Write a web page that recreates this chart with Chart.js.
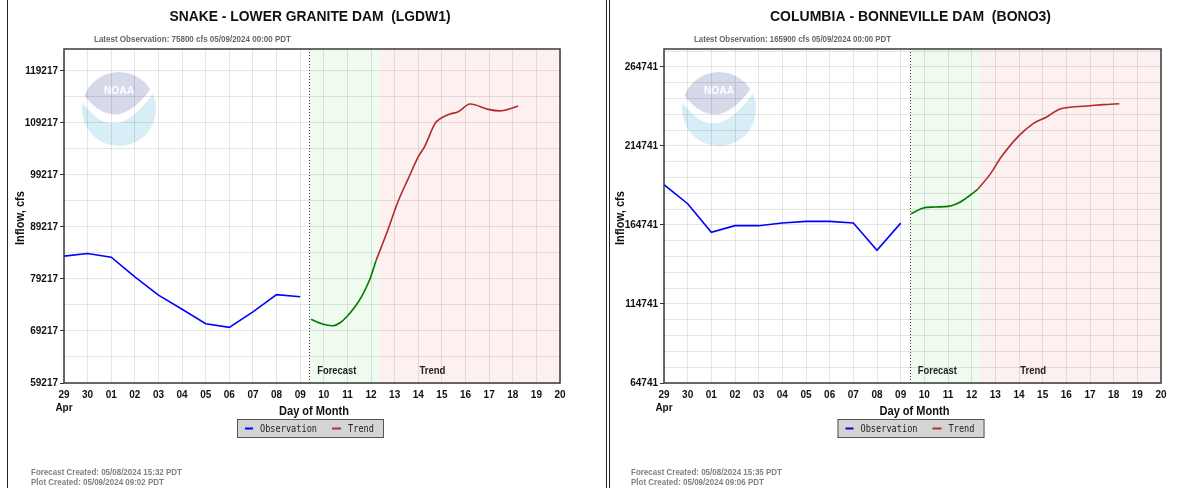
<!DOCTYPE html>
<html>
<head>
<meta charset="utf-8">
<script src="https://cdn.jsdelivr.net/npm/chart.js@4.4.1/dist/chart.umd.min.js"></script>
<style>
  body { margin: 0; background: #fff; }
  #wrap { position: relative; width: 1196px; height: 488px; }
  canvas { position: absolute; top: 0; }
</style>
</head>
<body>
<div id="wrap">
  <canvas id="lgdw1" width="600" height="488" style="left:0"></canvas>
  <canvas id="bono3" width="596" height="488" style="left:600px"></canvas>
</div>
<script>
// x axis: days from Apr 29 (0) to May 20 (21)
const dayLabels = ['29', '30', '01', '02', '03', '04', '05', '06', '07', '08', '09', '10',
    '11', '12', '13', '14', '15', '16', '17', '18', '19', '20'];

// Snake - Lower Granite Dam
const lgdwObsDays = [0, 1, 2, 3, 4, 5, 6, 7, 8, 9, 10];
const lgdwObsFlow = [83600, 84100, 83400, 79600, 76100, 73400, 70600, 69900, 72900, 76200, 75800];
const lgdwFcstDays = [10.46, 10.98, 11.40, 11.69, 11.97, 12.32, 12.60, 12.95, 13.21];
const lgdwFcstFlow = [71450, 70500, 70230, 70800, 71950, 73880, 75800, 79140, 82710];
const lgdwTrendDays = [13.21, 13.66, 14.15, 14.58, 15.0, 15.28, 15.71, 15.99, 16.34, 16.69, 17.19, 17.96, 18.53, 19.23];
const lgdwTrendFlow = [82710, 87980, 94180, 98550, 102700, 104750, 109110, 110190, 110900, 111340, 112820, 111800, 111530, 112440];
const lgdwYGrid = [59217, 64217, 69217, 74217, 79217, 84217, 89217, 94217, 99217, 104217, 109217, 114217, 119217];
const lgdwYLabels = [59217, 69217, 79217, 89217, 99217, 109217, 119217];

// Columbia - Bonneville Dam
const bonoObsDays = [0, 1, 2, 3, 4, 5, 6, 7, 8, 9, 10];
const bonoObsFlow = [190200, 178200, 160100, 164300, 164300, 166000, 167000, 167000, 166000, 148700, 165900];
const bonoFcstDays = [10.44, 10.96, 11.45, 12.01, 12.37, 12.72, 13.24];
const bonoFcstFlow = [171900, 175500, 176100, 176500, 178200, 181200, 187100];
const bonoTrendDays = [13.24, 13.77, 14.27, 14.97, 15.6, 16.17, 16.66, 17.15, 18.0, 18.56, 19.24];
const bonoTrendFlow = [187100, 196600, 208200, 220800, 228900, 233100, 237700, 239200, 240200, 240900, 241500];
const bonoYGrid = [64741, 74741, 84741, 94741, 104741, 114741, 124741, 134741, 144741, 154741, 164741,
    174741, 184741, 194741, 204741, 214741, 224741, 234741, 244741, 254741, 264741, 274741];
const bonoYLabels = [64741, 114741, 164741, 214741, 264741];

const FONT = 'Liberation Sans';
const GRID = 'rgba(0,0,0,0.1)';

function points(days, flows) {
    return days.map((d, i) => ({ x: d, y: flows[i] }));
}

function drawLogo(ctx, cx, cy, r) {
    ctx.save();
    ctx.beginPath();
    ctx.arc(cx, cy, r, 0, Math.PI * 2);
    ctx.clip();
    ctx.fillStyle = '#ffffff';
    ctx.fillRect(cx - r, cy - r, 2 * r, 2 * r);
    // lower light blue part
    ctx.fillStyle = '#d8eef7';
    ctx.beginPath();
    ctx.moveTo(cx - r, cy - 0.2 * r);
    ctx.quadraticCurveTo(cx - 0.1 * r, cy + 1.13 * r, cx + r, cy - 0.55 * r);
    ctx.lineTo(cx + r, cy + r);
    ctx.lineTo(cx - r, cy + r);
    ctx.closePath();
    ctx.fill();
    // upper lavender part
    ctx.fillStyle = '#d6d9ea';
    ctx.beginPath();
    ctx.moveTo(cx - r, cy - 0.45 * r);
    ctx.quadraticCurveTo(cx - 0.05 * r, cy + 0.88 * r, cx + r, cy - 0.75 * r);
    ctx.lineTo(cx + r, cy - r);
    ctx.lineTo(cx - r, cy - r);
    ctx.closePath();
    ctx.fill();
    ctx.fillStyle = '#ffffff';
    ctx.font = 'bold 11px ' + FONT;
    ctx.textAlign = 'center';
    ctx.textBaseline = 'middle';
    ctx.fillText('NOAA', cx, cy - 0.5 * r, 30);
    ctx.restore();
}

const panelPlugin = {
    id: 'panel',
    beforeDraw(chart, args, opts) {
        const { ctx, chartArea: a, scales: { x } } = chart;
        const fx = x.getPixelForValue(opts.fcstStart);
        const tx = x.getPixelForValue(opts.trendStart);
        ctx.save();
        ctx.fillStyle = '#effbef';
        ctx.fillRect(fx, a.top, tx - fx, a.height);
        ctx.fillStyle = '#fdf0f0';
        ctx.fillRect(tx, a.top, a.right - tx, a.height);
        ctx.restore();
        drawLogo(ctx, a.left + 55, a.top + 60, 37);
    },
    afterDraw(chart, args, opts) {
        const { ctx, chartArea: a, scales: { x } } = chart;
        const mid = (a.left + a.right) / 2;
        ctx.save();

        // page edge lines
        ctx.strokeStyle = '#222';
        ctx.lineWidth = 1;
        opts.edges.forEach(e => {
            ctx.beginPath();
            ctx.moveTo(e, 0);
            ctx.lineTo(e, chart.height);
            ctx.stroke();
        });

        // plot frame
        ctx.strokeStyle = '#3a3a3a';
        ctx.lineWidth = 1.5;
        ctx.strokeRect(a.left, a.top, a.width, a.height);

        // "now" line
        const nx = Math.round(x.getPixelForValue(opts.fcstStart)) + 0.5;
        ctx.strokeStyle = '#444';
        ctx.lineWidth = 1;
        ctx.setLineDash([1, 2]);
        ctx.beginPath();
        ctx.moveTo(nx, a.top);
        ctx.lineTo(nx, a.bottom);
        ctx.stroke();
        ctx.setLineDash([]);

        ctx.textBaseline = 'middle';
        ctx.textAlign = 'center';
        ctx.fillStyle = '#222';
        ctx.font = 'bold 10px ' + FONT;
        ctx.fillText('Forecast', x.getPixelForValue(11.55), a.bottom - 12, 39);
        ctx.fillText('Trend', x.getPixelForValue(15.6), a.bottom - 12, 26);

        // titles
        ctx.fillStyle = '#111';
        ctx.font = 'bold 15px ' + FONT;
        ctx.fillText(opts.title, mid - 2, 17, 281);

        ctx.fillStyle = '#666';
        ctx.font = 'bold 9px ' + FONT;
        ctx.textAlign = 'left';
        ctx.fillText(opts.latest, a.left + 30, 40, 197);

        ctx.fillStyle = '#111';
        ctx.textAlign = 'center';
        ctx.font = 'bold 13px ' + FONT;
        ctx.fillText('Day of Month', mid + 2, 411, 70);

        ctx.font = 'bold 10px ' + FONT;
        ctx.fillText('Apr', x.getPixelForValue(0), 408);

        ctx.save();
        ctx.translate(21, (a.top + a.bottom) / 2 + 2);
        ctx.rotate(-Math.PI / 2);
        ctx.font = 'bold 12px ' + FONT;
        ctx.fillText('Inflow, cfs', 0, 0, 54);
        ctx.restore();

        // legend box
        const lx = mid - 75, ly = 419;
        ctx.fillStyle = '#d4d4d4';
        ctx.fillRect(lx, ly, 147, 19);
        ctx.strokeStyle = '#555';
        ctx.lineWidth = 1;
        ctx.strokeRect(lx + 0.5, ly + 0.5, 146, 18);
        ctx.lineWidth = 2;
        ctx.strokeStyle = '#0000ff';
        ctx.beginPath();
        ctx.moveTo(lx + 8, ly + 9.5);
        ctx.lineTo(lx + 16, ly + 9.5);
        ctx.stroke();
        ctx.strokeStyle = '#c0282d';
        ctx.beginPath();
        ctx.moveTo(lx + 95, ly + 9.5);
        ctx.lineTo(lx + 104, ly + 9.5);
        ctx.stroke();
        ctx.fillStyle = '#222';
        ctx.textAlign = 'left';
        ctx.font = '11px "DejaVu Sans Mono"';
        ctx.fillText('Observation', lx + 23, ly + 10, 57);
        ctx.fillText('Trend', lx + 111, ly + 10, 26);

        // footer
        ctx.fillStyle = '#808080';
        ctx.font = 'bold 9px ' + FONT;
        ctx.fillText(opts.fcstCreated, a.left - 33, 473, 151);
        ctx.fillText(opts.plotCreated, a.left - 33, 483, 133);
        ctx.restore();
    }
};

function makeChart(id, obs, fcst, trend, yMin, yMax, yGrid, yLabels, rightPad, panel) {
    const ctx = document.getElementById(id).getContext('2d');
    return new Chart(ctx, {
        type: 'line',
        data: {
            datasets: [
                { label: 'Observation', data: obs, borderColor: '#0000ff', borderWidth: 1.6, pointRadius: 0, tension: 0 },
                { label: 'Forecast', data: fcst, borderColor: '#007a00', borderWidth: 1.6, pointRadius: 0, tension: 0.3 },
                { label: 'Trend', data: trend, borderColor: '#b52a2a', borderWidth: 1.6, pointRadius: 0, tension: 0.3 },
            ]
        },
        options: {
            responsive: false,
            animation: false,
            layout: { padding: { left: 0, top: 49, right: rightPad, bottom: 0 } },
            scales: {
                x: {
                    type: 'linear',
                    min: 0,
                    max: 21,
                    afterBuildTicks: s => { s.ticks = dayLabels.map((l, i) => ({ value: i })); },
                    afterFit: s => { s.height = 105; },
                    border: { display: false },
                    grid: { color: GRID, drawTicks: false },
                    ticks: {
                        autoSkip: false,
                        maxRotation: 0,
                        padding: 6,
                        color: '#111',
                        font: { family: FONT, size: 10, weight: 'bold' },
                        callback: (v, i) => dayLabels[i]
                    }
                },
                y: {
                    min: yMin,
                    max: yMax,
                    afterBuildTicks: s => { s.ticks = yGrid.map(v => ({ value: v })); },
                    afterFit: s => { s.width = 64; },
                    border: { display: false },
                    grid: {
                        color: GRID,
                        tickLength: 4,
                        tickColor: c => (c.tick && yLabels.includes(c.tick.value)) ? '#333' : 'rgba(0,0,0,0)'
                    },
                    ticks: {
                        autoSkip: false,
                        padding: 2,
                        color: '#111',
                        font: { family: FONT, size: 10, weight: 'bold' },
                        callback: v => yLabels.includes(v) ? String(v) : ''
                    }
                }
            },
            plugins: {
                legend: { display: false },
                tooltip: { enabled: false },
                panel: panel
            }
        },
        plugins: [panelPlugin]
    });
}

makeChart('lgdw1',
    points(lgdwObsDays, lgdwObsFlow), points(lgdwFcstDays, lgdwFcstFlow), points(lgdwTrendDays, lgdwTrendFlow),
    59217, 123400, lgdwYGrid, lgdwYLabels, 40, {
        title: 'SNAKE - LOWER GRANITE DAM  (LGDW1)',
        latest: 'Latest Observation: 75800 cfs 05/09/2024 00:00 PDT',
        fcstCreated: 'Forecast Created: 05/08/2024 15:32 PDT',
        plotCreated: 'Plot Created: 05/09/2024 09:02 PDT',
        fcstStart: 10.375,
        trendStart: 13.35,
        edges: [7.5]
    });

makeChart('bono3',
    points(bonoObsDays, bonoObsFlow), points(bonoFcstDays, bonoFcstFlow), points(bonoTrendDays, bonoTrendFlow),
    64741, 276100, bonoYGrid, bonoYLabels, 35, {
        title: 'COLUMBIA - BONNEVILLE DAM  (BONO3)',
        latest: 'Latest Observation: 165900 cfs 05/09/2024 00:00 PDT',
        fcstCreated: 'Forecast Created: 05/08/2024 15:35 PDT',
        plotCreated: 'Plot Created: 05/09/2024 09:06 PDT',
        fcstStart: 10.375,
        trendStart: 13.35,
        edges: [6.5, 9.5]
    });
</script>
</body>
</html>
